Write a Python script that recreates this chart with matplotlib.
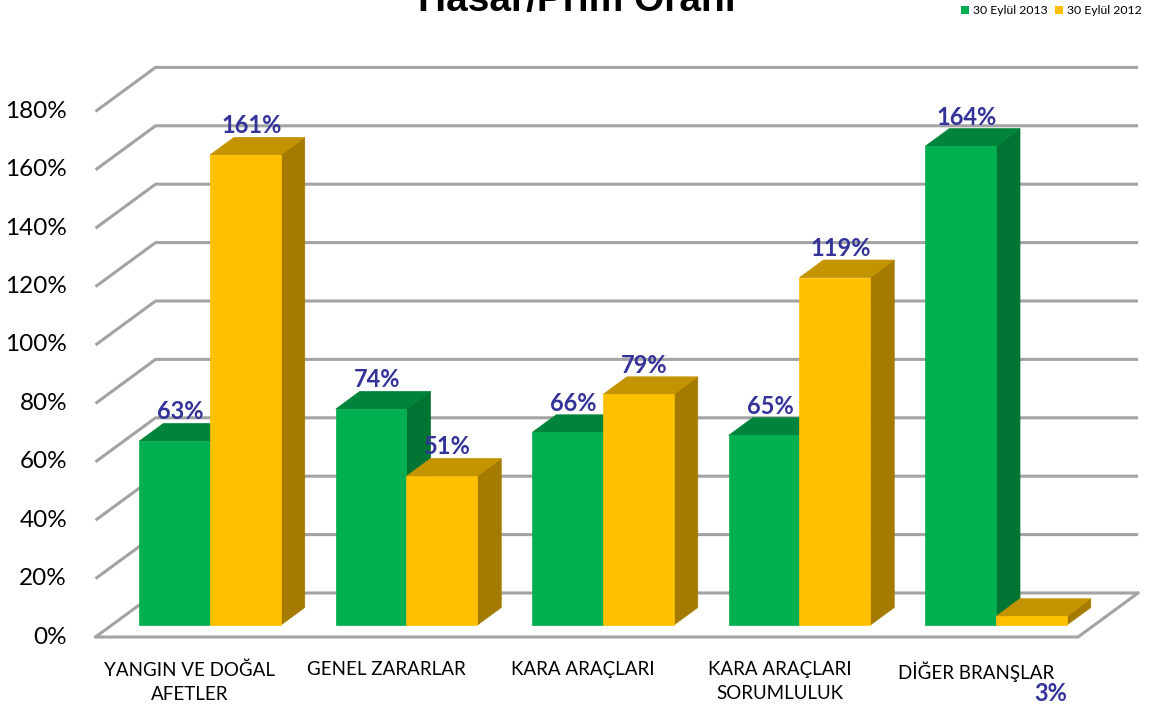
import matplotlib.pyplot as plt
from matplotlib.patches import Polygon, Patch

plt.rcParams['font.family'] = ['Lato', 'DejaVu Sans']

categories = ['YANGIN VE DOĞAL\nAFETLER', 'GENEL ZARARLAR', 'KARA ARAÇLARI',
              'KARA ARAÇLARI\nSORUMLULUK', 'DİĞER BRANŞLAR']
series_names = ['30 Eylül 2013', '30 Eylül 2012']
values_2013 = [63, 74, 66, 65, 164]
values_2012 = [161, 51, 79, 119, 3]
y_ticks = [0, 20, 40, 60, 80, 100, 120, 140, 160, 180]

# face colours: front, top, side
colors = [('#00B050', '#00843C', '#007433'),
          ('#FFC000', '#C49300', '#A47B00')]
label_color = '#333399'
grid_color = '#A3A3A3'

W, H = 1153, 708
PX_CAT, X0_PX = 196.5, 193.8   # pixels per category, pixel of category 0
PX_PCT, Y0_PX = 2.92, 637      # pixels per percent, pixel of 0%
DX = 60 / PX_CAT               # depth offset (full depth) in data units
DY = 44 / PX_PCT
BAR_W = 0.36
Z0, Z1 = 0.27, 0.67


def proj(x, y, z):
    return x + z * DX, y + z * DY


fig = plt.figure(figsize=(W / 100, H / 100), dpi=100)
ax = fig.add_axes([0, 0, 1, 1])
ax.set_xlim(-X0_PX / PX_CAT, (W - X0_PX) / PX_CAT)
ax.set_ylim((Y0_PX - H) / PX_PCT, Y0_PX / PX_PCT)
ax.axis('off')

x_lo, x_hi = -0.5, len(categories) - 0.5

# walls / gridlines
for v in y_ticks:
    a = proj(x_lo, v, 0)
    b = proj(x_lo, v, 1)
    c = proj(x_hi, v, 1)
    ax.plot([a[0], b[0], c[0]], [a[1], b[1], c[1]], color=grid_color, lw=2.2,
            solid_capstyle='butt', zorder=1)
    ax.text(x_lo - 0.145, v, f'{v}%', ha='right', va='center', fontsize=17.5,
            color='black')
f1, f2, f3 = proj(x_lo, 0, 0), proj(x_hi, 0, 0), proj(x_hi, 0, 1)
ax.plot([f1[0], f2[0], f3[0]], [f1[1], f2[1], f3[1]], color=grid_color, lw=2.2,
        zorder=1)

# bars
for i in range(len(categories)):
    for j, vals in enumerate([values_2013, values_2012]):
        v = vals[i]
        xl = i - BAR_W + j * BAR_W
        xr = xl + BAR_W
        front_c, top_c, side_c = colors[j]
        front = [proj(xl, 0, Z0), proj(xr, 0, Z0), proj(xr, v, Z0), proj(xl, v, Z0)]
        top = [proj(xl, v, Z0), proj(xr, v, Z0), proj(xr, v, Z1), proj(xl, v, Z1)]
        side = [proj(xr, 0, Z0), proj(xr, 0, Z1), proj(xr, v, Z1), proj(xr, v, Z0)]
        for poly, c in [(side, side_c), (top, top_c), (front, front_c)]:
            ax.add_patch(Polygon(poly, closed=True, facecolor=c, edgecolor=c,
                                 lw=0.5, zorder=3))
        cx, cy = proj((xl + xr) / 2, v, Z0)
        if v < 10:
            # tiny bars get their label under the axis, as in the original
            ax.text(cx + 0.1, -19.3, f'{v}%', ha='center', va='center',
                    fontsize=17, fontweight='bold', color=label_color, zorder=5)
        else:
            ax.text(cx + 0.03, cy + 10, f'{v}%', ha='center', va='center',
                    fontsize=17, fontweight='bold', color=label_color, zorder=5)

# category labels
for i, name in enumerate(categories):
    ax.text(i - 0.02, -8.3, name, ha='center', va='top', fontsize=13.5,
            linespacing=1.5, color='black')

fig.text(0.5, 1 - 11 / H, 'Hasar/Prim Oranı', ha='center', va='baseline',
         fontsize=28, fontweight='bold', family=['Liberation Sans', 'DejaVu Sans'])

handles = [Patch(facecolor=colors[k][0], edgecolor='none', label=series_names[k])
           for k in range(2)]
fig.legend(handles=handles, loc='upper right', bbox_to_anchor=(1 - 4 / W, 1 + 2 / H),
           ncol=2, frameon=False, fontsize=8.8, handlelength=0.7, handleheight=0.7,
           handletextpad=0.3, columnspacing=0.6, borderaxespad=0.2)

fig.savefig('out.png', dpi=100)
